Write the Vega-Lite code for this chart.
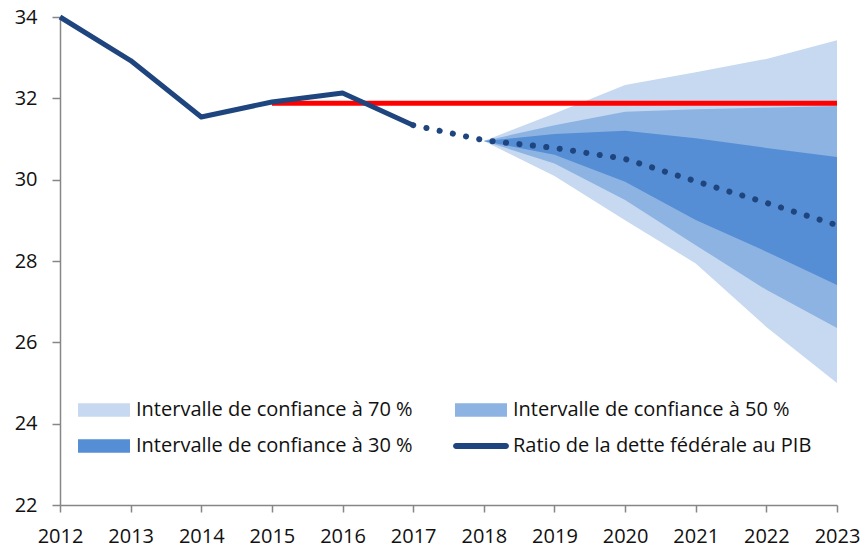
{
  "$schema": "https://vega.github.io/schema/vega-lite/v6.json",
  "width": 777,
  "height": 488,
  "autosize": {"type": "none"},
  "padding": {"left": 60, "top": 17, "right": 31, "bottom": 43},
  "config": {
    "view": {"stroke": null},
    "font": "Open Sans",
    "axis": {
      "grid": false,
      "title": null,
      "domainColor": "#868686",
      "tickColor": "#868686",
      "domainWidth": 1.5,
      "tickWidth": 1.5,
      "labelColor": "#111111",
      "labelFontSize": 20,
      "labelFont": "Open Sans"
    }
  },
  "datasets": {
    "bands": [
      {"year": 2018, "lo70": 30.95, "hi70": 30.95, "lo50": 30.95, "hi50": 30.95, "lo30": 30.95, "hi30": 30.95},
      {"year": 2019, "lo70": 30.09, "hi70": 31.63, "lo50": 30.40, "hi50": 31.34, "lo30": 30.61, "hi30": 31.12},
      {"year": 2020, "lo70": 29.00, "hi70": 32.33, "lo50": 29.50, "hi50": 31.67, "lo30": 29.95, "hi30": 31.20},
      {"year": 2021, "lo70": 27.94, "hi70": 32.64, "lo50": 28.39, "hi50": 31.73, "lo30": 29.01, "hi30": 31.02},
      {"year": 2022, "lo70": 26.38, "hi70": 32.97, "lo50": 27.29, "hi50": 31.77, "lo30": 28.23, "hi30": 30.78},
      {"year": 2023, "lo70": 25.00, "hi70": 33.43, "lo50": 26.35, "hi50": 31.81, "lo30": 27.41, "hi30": 30.56}
    ],
    "debt": [
      {"year": 2012, "hist": 34.0, "proj": null},
      {"year": 2013, "hist": 32.93, "proj": null},
      {"year": 2014, "hist": 31.54, "proj": null},
      {"year": 2015, "hist": 31.91, "proj": null},
      {"year": 2016, "hist": 32.13, "proj": null},
      {"year": 2017, "hist": 31.34, "proj": 31.34},
      {"year": 2018, "hist": null, "proj": 30.97},
      {"year": 2019, "hist": null, "proj": 30.78},
      {"year": 2020, "hist": null, "proj": 30.51},
      {"year": 2021, "hist": null, "proj": 29.96},
      {"year": 2022, "hist": null, "proj": 29.43},
      {"year": 2023, "hist": null, "proj": 28.88}
    ],
    "target": [
      {"year": 2015, "value": 31.88},
      {"year": 2023, "value": 31.88}
    ]
  },
  "encoding": {
    "x": {
      "field": "year",
      "type": "quantitative",
      "scale": {"domain": [2012, 2023], "nice": false, "zero": false},
      "axis": {
        "values": [2012, 2013, 2014, 2015, 2016, 2017, 2018, 2019, 2020, 2021, 2022, 2023],
        "format": "d",
        "tickSize": 7,
        "labelPadding": 14,
        "labelFlush": false
      }
    }
  },
  "layer": [
    {
      "data": {"name": "bands"},
      "mark": {"type": "area", "opacity": 1},
      "encoding": {
        "y": {
          "field": "lo70",
          "type": "quantitative",
          "scale": {"domain": [22, 34], "nice": false, "zero": false},
          "axis": {"values": [22, 24, 26, 28, 30, 32, 34], "tickSize": 8, "labelPadding": 15}
        },
        "y2": {"field": "hi70"},
        "fill": {
          "datum": "Intervalle de confiance à 70 %",
          "type": "nominal",
          "scale": {
            "domain": ["Intervalle de confiance à 70 %", "Intervalle de confiance à 50 %", "Intervalle de confiance à 30 %", "Ratio de la dette fédérale au PIB"],
            "range": ["#C6D9F0", "#8DB3E2", "#558ED5", "#1F457F"]
          },
          "legend": {
            "title": null,
            "orient": "none",
            "legendX": 18,
            "legendY": 367,
            "columns": 2,
            "direction": "horizontal",
            "columnPadding": 40,
            "rowPadding": -20,
            "labelFontSize": 20,
            "labelFont": "Open Sans",
            "labelColor": "#111111",
            "labelOffset": 6,
            "labelLimit": 400,
            "symbolSize": 2704,
            "symbolStrokeWidth": 0,
            "symbolOpacity": 1,
            "symbolType": "M-1,-0.256H1V0.256H-1Z",
            "padding": 0,
            "encode": {
              "symbols": {
                "update": {
                  "shape": {"signal": "datum.value === 'Ratio de la dette fédérale au PIB' ? 'M-0.96,-0.115H0.96A0.115,0.115 0 0 1 0.96,0.115H-0.96A0.115,0.115 0 0 1 -0.96,-0.115Z' : 'M-1,-0.256H1V0.256H-1Z'"}
                }
              }
            }
          }
        }
      }
    },
    {
      "data": {"name": "bands"},
      "mark": {"type": "area", "opacity": 1},
      "encoding": {
        "y": {"field": "lo50", "type": "quantitative"},
        "y2": {"field": "hi50"},
        "fill": {"datum": "Intervalle de confiance à 50 %", "type": "nominal"}
      }
    },
    {
      "data": {"name": "bands"},
      "mark": {"type": "area", "opacity": 1},
      "encoding": {
        "y": {"field": "lo30", "type": "quantitative"},
        "y2": {"field": "hi30"},
        "fill": {"datum": "Intervalle de confiance à 30 %", "type": "nominal"}
      }
    },
    {
      "data": {"name": "target"},
      "mark": {"type": "line", "color": "#FF0000", "strokeWidth": 5},
      "encoding": {
        "y": {"field": "value", "type": "quantitative"}
      }
    },
    {
      "data": {"name": "debt"},
      "mark": {"type": "line", "color": "#1F457F", "strokeWidth": 5, "strokeJoin": "round"},
      "encoding": {
        "y": {"field": "hist", "type": "quantitative"}
      }
    },
    {
      "data": {"name": "debt"},
      "mark": {"type": "line", "color": "#1F457F", "strokeWidth": 6, "strokeCap": "round", "strokeDash": [0.1, 13.4]},
      "encoding": {
        "y": {"field": "proj", "type": "quantitative"}
      }
    }
  ]
}
